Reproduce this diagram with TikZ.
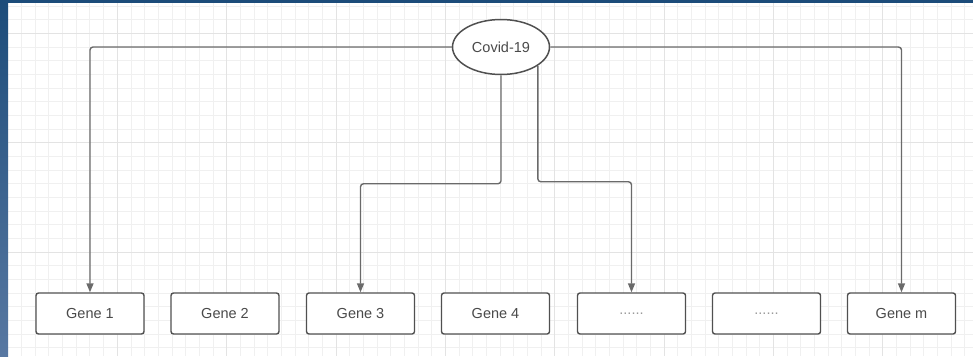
\documentclass[tikz,border=0pt]{standalone}
\usepackage{fontspec}
\setmainfont{Liberation Sans}
\usetikzlibrary{shapes.geometric,arrows.meta}
\definecolor{edgec}{HTML}{6A6A6A}
\definecolor{boxc}{HTML}{505050}
\definecolor{txtc}{HTML}{4A4A4A}
\definecolor{dotc}{HTML}{9A9A9A}
\definecolor{gridminor}{HTML}{F0F0F0}
\definecolor{gridmajor}{HTML}{E3E3E3}
\definecolor{bluetop}{RGB}{28,76,122}
\definecolor{bluebot}{RGB}{88,120,162}
\begin{document}
\begin{tikzpicture}[x=1pt,y=-1pt,
  genebox/.style={draw=boxc, line width=1.4pt, rounded corners=2.5pt, minimum width=108pt, minimum height=41pt, inner sep=0pt, text=txtc, font=\fontsize{14.5}{17}\selectfont},
  link/.style={draw=edgec, line width=1.4pt, rounded corners=3pt, -{Triangle[length=9pt,width=7pt]}}]
\useasboundingbox (0,0) rectangle (973,356);
% background
\fill[white] (0,0) rectangle (973,356);
\begin{scope}
\clip (8,3) rectangle (973,356);
\foreach \k in {-8,...,62} {
  \pgfmathsetmacro\xx{117.33+\k*13.67}
  \draw[gridminor, line width=1pt] (\xx,0) -- (\xx,356);
}
\foreach \k in {-11,...,16} {
  \pgfmathsetmacro\yy{142.7+\k*13.67}
  \draw[gridminor, line width=1pt] (0,\yy) -- (973,\yy);
}
\foreach \k in {-8,0,...,56} {
  \pgfmathsetmacro\xx{117.33+\k*13.67}
  \draw[gridmajor, line width=1pt] (\xx,0) -- (\xx,356);
}
\foreach \k in {-8,0,8} {
  \pgfmathsetmacro\yy{142.7+\k*13.67}
  \draw[gridmajor, line width=1pt] (0,\yy) -- (973,\yy);
}
\end{scope}
\fill[bluetop] (0,0) rectangle (973,3);
\shade[top color=bluetop, bottom color=bluebot] (0,0) rectangle (8,356);

% nodes
\node[ellipse, draw=boxc, line width=1.5pt, fill=white, minimum width=97pt, minimum height=55pt, inner sep=0pt, text=txtc, font=\fontsize{14.5}{17}\selectfont] (cov) at (501,47) {Covid-19};
\node[genebox, fill=white] (g1) at (90,313.5) {Gene 1};
\node[genebox, fill=white] (g2) at (225,313.5) {Gene 2};
\node[genebox, fill=white] (g3) at (360.5,313.5) {Gene 3};
\node[genebox, fill=white] (g4) at (495.5,313.5) {Gene 4};
\node[genebox, fill=white, text=dotc] (g5) at (631.5,313.5) {......};
\node[genebox, fill=white, text=dotc] (g6) at (766.5,313.5) {......};
\node[genebox, fill=white] (gm) at (901.5,313.5) {Gene m};

% connectors
\draw[link] (cov.west) -| (g1.north);
\draw[link] (cov.east) -| (gm.north);
\draw[link] (cov.south) -- ++(0,108.5) -| (g3.north);
\draw[link] (cov.-27) -- ++(0,116) -| (g5.north);
\end{tikzpicture}
\end{document}
